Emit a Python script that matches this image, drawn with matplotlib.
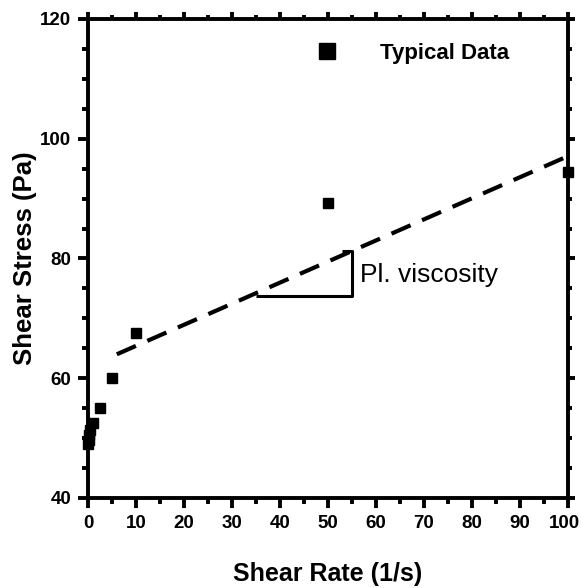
import numpy as np
import matplotlib.pyplot as plt
import matplotlib.transforms as mtransforms

plt.rcParams['font.family'] = ['Liberation Sans', 'DejaVu Sans']

# measured data (shear rate in 1/s, shear stress in Pa)
shear_rate = [0.05, 0.1, 0.25, 0.5, 1.0, 2.5, 5.0, 10.0, 50.0, 100.0]
shear_stress = [49.0, 49.7, 50.5, 51.4, 52.6, 55.0, 60.0, 67.5, 89.3, 94.4]

# Bingham-type fit line (dashed)
fit_x = [6.0, 100.0]
fit_y = [64.0, 97.1]

# slope triangle
tri_x = [35.0, 55.0, 55.0, 53.0]
tri_y = [73.8, 73.8, 81.2, 81.2]

fig = plt.figure(figsize=(5.81, 5.88), dpi=100)
ax = fig.add_axes([0.1515, 0.1531, 0.8262, 0.8146])

ax.plot(fit_x, fit_y, color='black', lw=3.0, ls=(0, (5, 3)), zorder=2)
ax.plot(tri_x, tri_y, color='black', lw=2.2, solid_capstyle='butt', zorder=2)
ax.plot(shear_rate, shear_stress, 's', color='black', ms=7.5,
        label='Typical Data', zorder=3, clip_on=False)
ax.text(56.7, 77.3, 'Pl. viscosity', fontsize=19, va='center', ha='left')

ax.set_xlim(0, 100)
ax.set_ylim(40, 120)
ax.set_xticks(np.arange(0, 101, 10))
ax.set_xticks(np.arange(0, 101, 5), minor=True)
ax.set_yticks(np.arange(40, 121, 20))
ax.set_yticks(np.arange(40, 121, 5), minor=True)

for s in ax.spines.values():
    s.set_linewidth(2.8)
ax.tick_params(which='major', length=7, width=2.8, labelsize=13.5, pad=5)
ax.tick_params(which='minor', length=4, width=2.8)
for lab in ax.get_xticklabels() + ax.get_yticklabels():
    lab.set_fontweight('bold')
# last x label sits at the figure edge, nudge it in a little
last = ax.get_xticklabels()[-1]
last.set_transform(last.get_transform() +
                   mtransforms.ScaledTranslation(-4 / 100, 0, fig.dpi_scale_trans))

# short ticks on top and right
top = ax.secondary_xaxis('top')
top.set_xticks(np.arange(0, 101, 10))
top.set_xticks(np.arange(0, 101, 5), minor=True)
top.tick_params(which='major', length=5, width=2.8, labeltop=False)
top.tick_params(which='minor', length=3, width=2.8)
right = ax.secondary_yaxis('right')
right.set_yticks(np.arange(40, 121, 20))
right.set_yticks(np.arange(40, 121, 5), minor=True)
right.tick_params(which='major', length=5, width=2.8, labelright=False)
right.tick_params(which='minor', length=3, width=2.8)

ax.set_xlabel('Shear Rate (1/s)', fontsize=18, fontweight='bold', labelpad=22)
ax.set_ylabel('Shear Stress (Pa)', fontsize=18.5, fontweight='bold', labelpad=2)

ax.legend(loc='center left', bbox_to_anchor=(0.475, 0.929), frameon=False,
          markerscale=1.6, handlelength=1.0, handletextpad=1.9,
          borderaxespad=0, borderpad=0,
          prop={'size': 16, 'weight': 'bold'})

fig.savefig('out.png', dpi=100)
